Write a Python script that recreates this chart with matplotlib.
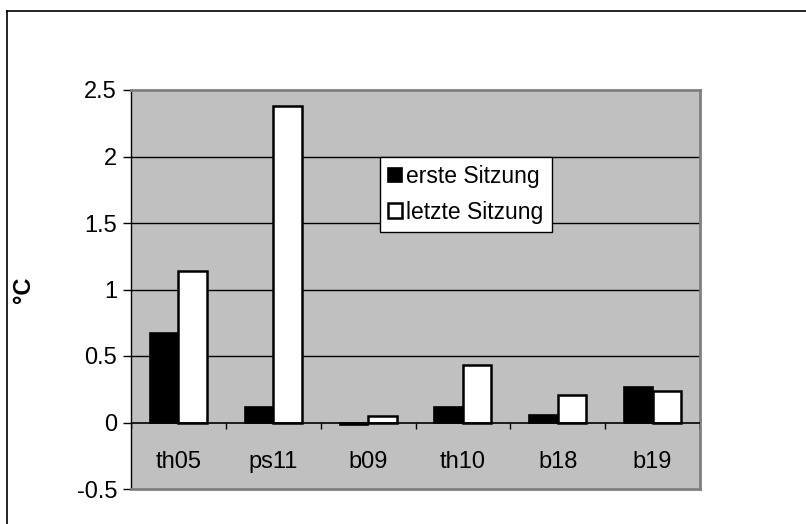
import matplotlib
matplotlib.use("Agg")
import matplotlib.pyplot as plt
from matplotlib.lines import Line2D
import numpy as np

plt.rcParams['font.family'] = ['Liberation Sans', 'DejaVu Sans']

categories = ['th05', 'ps11', 'b09', 'th10', 'b18', 'b19']
erste = [0.67, 0.12, -0.02, 0.12, 0.06, 0.27]
letzte = [1.14, 2.38, 0.05, 0.43, 0.21, 0.24]
yticks = [-0.5, 0, 0.5, 1, 1.5, 2, 2.5]

W, H = 806, 524
fig = plt.figure(figsize=(W / 100, H / 100), dpi=100)
ax = fig.add_axes([131 / W, 1 - 489 / H, 569 / W, 399 / H])
ax.set_facecolor('#c0c0c0')

x = np.arange(len(categories))
bw = 0.3
ax.bar(x - bw / 2, erste, bw, color='black', edgecolor='black', linewidth=1.2, zorder=3)
ax.bar(x + bw / 2, letzte, bw, color='white', edgecolor='black', linewidth=1.8, zorder=3,
       label='letzte Sitzung')

ax.set_xlim(-0.5, len(categories) - 0.5)
ax.set_ylim(-0.5, 2.5)
ax.set_yticks(yticks)
ax.set_yticklabels([('%g' % v) for v in yticks], fontsize=17)
ax.tick_params(axis='y', direction='out', length=6, width=1, pad=4)
ax.set_xticks([])

for v in yticks[2:-1]:
    ax.axhline(v, color='black', lw=1, zorder=1)
ax.axhline(0, color='black', lw=1.2, zorder=4)
ax.vlines(np.arange(len(categories) + 1) - 0.5, -0.05, 0, color='black', lw=1, zorder=4)
for i, name in enumerate(categories):
    ax.text(i, -0.3, name, ha='center', va='center', fontsize=17)

for s in ['top', 'right', 'bottom']:
    ax.spines[s].set_color('#808080')
    ax.spines[s].set_linewidth(2)
ax.spines['left'].set_color('black')
ax.spines['left'].set_linewidth(1)

ax.set_ylabel('°C', fontsize=17, fontweight='bold', labelpad=30)

from matplotlib.patches import Patch
handles = [Patch(facecolor='black', edgecolor='black', lw=1.2),
           Patch(facecolor='white', edgecolor='black', lw=1.8)]
leg = fig.legend(handles, ['erste Sitzung', 'letzte Sitzung'], loc='upper left',
                 bbox_to_anchor=(380 / W, 1 - 157 / H), fontsize=16.5,
                 handlelength=0.6, handleheight=0.6, handletextpad=0.2,
                 borderpad=0.35, labelspacing=0.55, borderaxespad=0,
                 fancybox=False, framealpha=1, edgecolor='black')
leg.get_frame().set_linewidth(1)

# outer chart frame (left and top edges visible)
fig.add_artist(Line2D([7 / W, 7 / W], [0, 1 - 11 / H], color='black', lw=1.2))
fig.add_artist(Line2D([7 / W, 1], [1 - 11 / H, 1 - 11 / H], color='black', lw=1.2))

fig.savefig('out.png', dpi=100)
